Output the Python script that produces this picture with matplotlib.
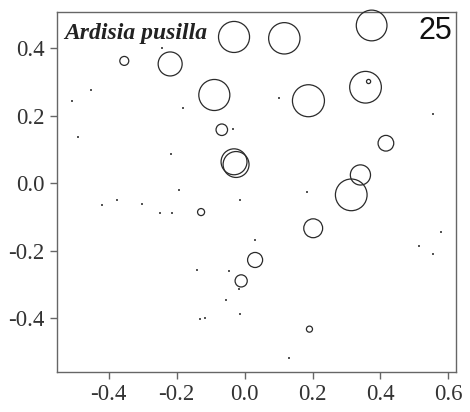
import numpy as np
import matplotlib.pyplot as plt

# ordination scores of quadrats, bubble size ~ abundance of the species
species = "Ardisia pusilla"
panel_no = "25"

circ_x = [-0.031, -0.354, -0.219, -0.089, -0.067, -0.031, -0.025, 0.117, 0.374, 0.188,
          0.356, 0.365, 0.416, 0.341, 0.314, 0.202, 0.031, -0.128, -0.010, 0.191]
circ_y = [0.434, 0.363, 0.354, 0.262, 0.159, 0.064, 0.056, 0.430, 0.468, 0.245,
          0.285, 0.302, 0.119, 0.025, -0.034, -0.133, -0.227, -0.085, -0.289, -0.432]
abund = [0.97, 0.28, 0.75, 0.97, 0.36, 0.81, 0.81, 0.98, 0.96, 1.00,
         0.99, 0.13, 0.49, 0.63, 0.99, 0.59, 0.47, 0.22, 0.38, 0.19]

# quadrats where the species is absent
dot_x = [-0.244, -0.452, -0.508, -0.180, -0.034, -0.491, -0.217, 0.101, 0.554, 0.183,
         0.031, 0.578, 0.512, 0.554, 0.130, -0.192, -0.421, -0.375, -0.301, -0.249,
         -0.213, -0.012, -0.141, -0.046, -0.015, -0.055, -0.131, -0.115, -0.013]
dot_y = [0.402, 0.277, 0.245, 0.223, 0.162, 0.137, 0.088, 0.253, 0.206, -0.027,
         -0.167, -0.143, -0.185, -0.208, -0.517, -0.021, -0.064, -0.050, -0.060, -0.087,
         -0.088, -0.049, -0.256, -0.261, -0.313, -0.347, -0.402, -0.398, -0.388]

fig = plt.figure(figsize=(4.7, 4.12), dpi=100)
ax = fig.add_axes([0.1213, 0.0971, 0.8487, 0.8738])

# marker size in pt^2 from radius (16 px at full abundance)
r_px = 16 * np.array(abund)
s = (2 * r_px * 0.72) ** 2
ax.scatter(circ_x, circ_y, s=s, facecolors="none", edgecolors="#2a2a2a",
           linewidths=0.9, clip_on=False, zorder=3)
ax.scatter(dot_x, dot_y, s=1.2, c="#555555", marker="s", linewidths=0, zorder=3)

ax.set_xlim(-0.552, 0.622)
ax.set_ylim(-0.559, 0.508)
ax.set_xticks([-0.4, -0.2, 0.0, 0.2, 0.4, 0.6])
ax.set_yticks([-0.4, -0.2, 0.0, 0.2, 0.4])
ax.xaxis.set_major_formatter(plt.FormatStrFormatter("%.1f"))
ax.yaxis.set_major_formatter(plt.FormatStrFormatter("%.1f"))

for sp in ax.spines.values():
    sp.set_color("#666666")
    sp.set_linewidth(1.0)
ax.tick_params(direction="out", length=5, width=1, color="#666666",
               labelsize=16.5, labelcolor="#333333", pad=4)
for lab in ax.get_xticklabels() + ax.get_yticklabels():
    lab.set_family("Liberation Serif")

ax.text(0.0175, 0.925, species, transform=ax.transAxes, family="Liberation Serif",
        style="italic", weight="bold", fontsize=17, color="#222222", va="baseline")
ax.text(0.99, 0.99, panel_no, transform=ax.transAxes, family="Liberation Sans",
        fontsize=22, color="#111111", ha="right", va="top")

fig.savefig("out.png", dpi=100)
